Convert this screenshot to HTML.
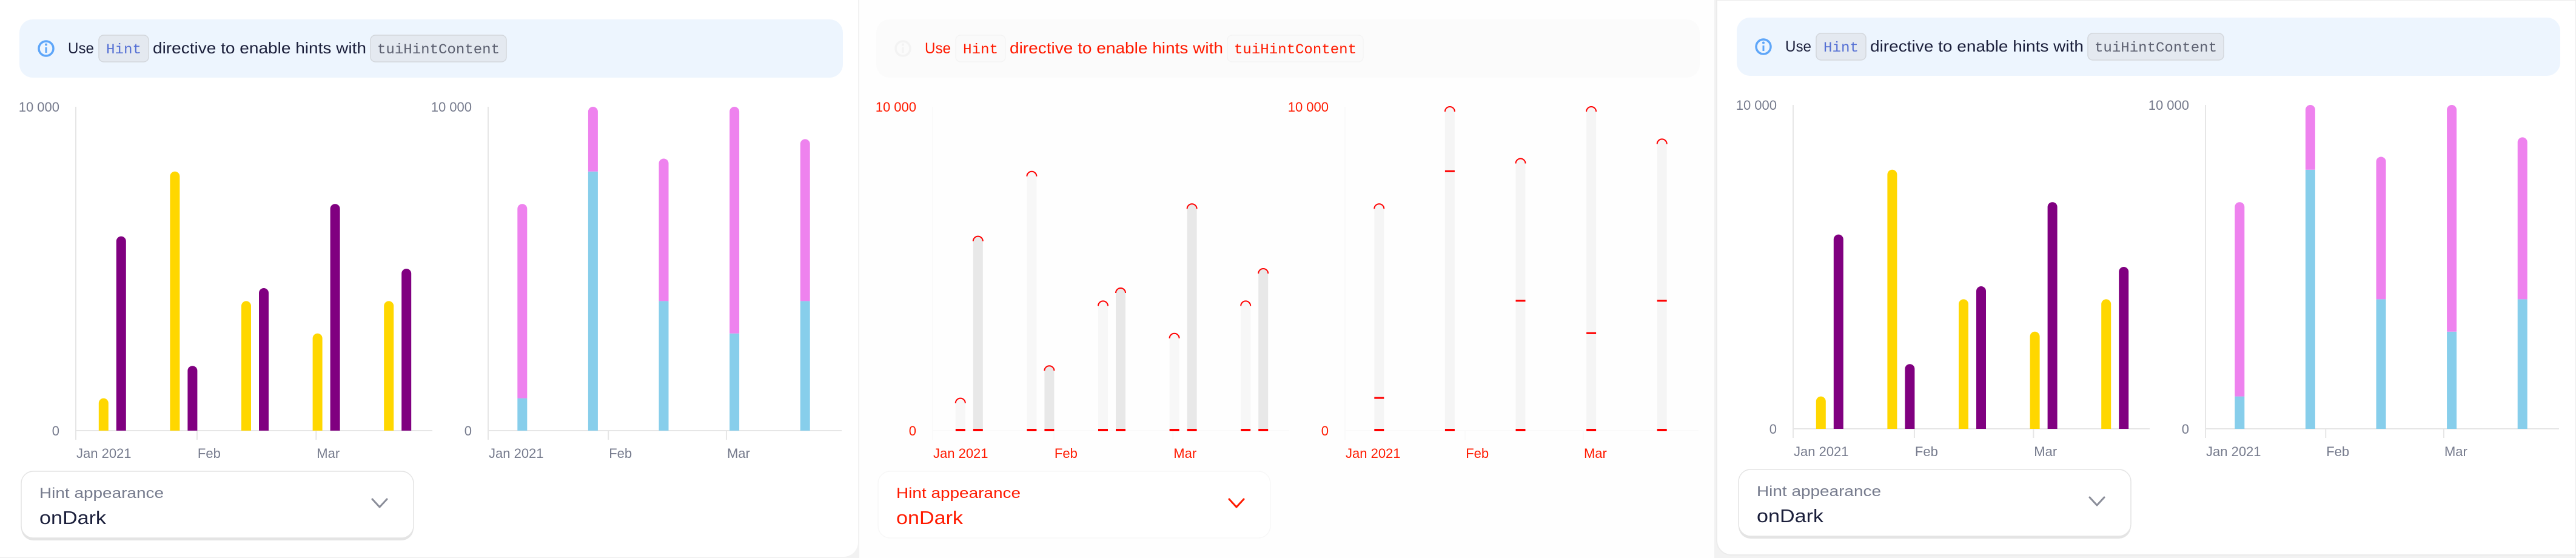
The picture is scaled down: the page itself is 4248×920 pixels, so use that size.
<!DOCTYPE html>
<html><head><meta charset="utf-8">
<style>
html,body{margin:0;padding:0;background:#f2f2f2;}
svg{display:block;font-family:"Liberation Sans",sans-serif;}
</style></head>
<body>
<svg id="root" width="4248" height="920" viewBox="0 0 4248 920" xmlns="http://www.w3.org/2000/svg">
  <rect x="0" y="0" width="4248" height="920" fill="#f2f2f2"/>
</svg>
<script>
const categories = ["W1","W2","W3","W4","W5"];
const seriesA = [1000, 8000, 4000, 3000, 4000];
const seriesB = [6000, 2000, 4400, 7000, 5000];
const yTickValues = [0, 10000];
const yTickLabels = ["0", "10 000"];
const monthLabels = ["Jan 2021", "Feb", "Mar"];
const monthPositions = [0, 1.7, 3.37];
const yMax = 10000;

const NS = "http://www.w3.org/2000/svg";
const root = document.getElementById("root");
function mk(tag, attrs, parent, text) {
  const e = document.createElementNS(NS, tag);
  for (const k in attrs) e.setAttribute(k, attrs[k]);
  if (attrs.textLength) e.setAttribute("lengthAdjust", "spacingAndGlyphs");
  if (text !== undefined) e.textContent = text;
  (parent || root).appendChild(e);
  return e;
}
function topRounded(x, w, yTop, yBot) {
  const r = w / 2;
  if (yBot - yTop < r) return `M${x},${yBot}V${yTop}H${x+w}V${yBot}Z`;
  return `M${x},${yBot}V${yTop+r}A${r},${r} 0 0 1 ${x+w},${yTop+r}V${yBot}Z`;
}

function drawPanel(ox, oy, diff, name) {
  const g = mk("g", {transform: `translate(${ox},${oy})`});
  
  
  const textCol = diff ? "#ff1a00" : "#1b1f3b";
  const grayCol = diff ? "#ff1a00" : "#767b8d";
  // info box
  const info = mk("g", {}, g);
  
  
  mk("rect", {x: 32, y: 32, width: 1358, height: 96, rx: 22, fill: diff ? "#fbfbfb" : "#edf5fe"}, info);
  mk("circle", {cx: 76, cy: 80, r: 12, fill: "none", stroke: diff ? "#f3f3f3" : "#5ea6f9", "stroke-width": 3.5}, info);
  mk("rect", {x: 74.5, y: 78, width: 3, height: 9, fill: diff ? "#f3f3f3" : "#5ea6f9"}, info);
  mk("circle", {cx: 76, cy: 73.5, r: 2, fill: diff ? "#f3f3f3" : "#5ea6f9"}, info);
  mk("text", {x: 112, y: 88, "font-size": 25, fill: textCol, textLength: 43}, info, "Use");
  mk("rect", {x: 163, y: 58, width: 82, height: 44, rx: 8, fill: diff ? "#fafafa" : "#e4e9f0", stroke: diff ? "#f4f4f4" : "#d3d7dc", "stroke-width": 1.5}, info);
  mk("text", {x: 175, y: 88, "font-size": 23, "font-family": "Liberation Mono, monospace", fill: diff ? "#ff1a00" : "#5570d4", textLength: 58}, info, "Hint");
  mk("text", {x: 252, y: 88, "font-size": 26, fill: textCol, textLength: 352}, info, "directive to enable hints with");
  mk("rect", {x: 611, y: 58, width: 224, height: 44, rx: 8, fill: diff ? "#fafafa" : "#e4e9f0", stroke: diff ? "#f4f4f4" : "#d3d7dc", "stroke-width": 1.5}, info);
  mk("text", {x: 622, y: 88, "font-size": 23, "font-family": "Liberation Mono, monospace", fill: diff ? "#ff1a00" : "#5c6070", textLength: 202}, info, "tuiHintContent");

  // charts
  const y = v => 710 - v / yMax * 534;
  function axes(x0, w, label) {
    const a = mk("g", {}, g);
    
    
    mk("line", {x1: x0, y1: 176, x2: x0, y2: 725, stroke: diff ? "#fafafa" : "#e6e6e6", "stroke-width": 2}, a);
    mk("line", {x1: x0, y1: 710, x2: x0 + w, y2: 710, stroke: diff ? "#fafafa" : "#e6e6e6", "stroke-width": 2}, a);
    yTickValues.forEach((v, i) => {
      const t = mk("text", {x: x0 - 27, y: y(v) + 8, "font-size": 22, "text-anchor": "end", fill: grayCol}, a, yTickLabels[i]);
      
      
    });
    const band = w / categories.length;
    monthLabels.forEach((m, i) => {
      const tx = x0 + monthPositions[i] * band;
      mk("line", {x1: tx, y1: 710, x2: tx, y2: 725, stroke: diff ? "#fafafa" : "#e6e6e6", "stroke-width": 2}, a);
      const t = mk("text", {x: tx + 1, y: 755, "font-size": 22, fill: grayCol}, a, m);
      
      
    });
  }
  // grouped chart
  const x0a = 125, wa = 588, banda = wa / categories.length;
  axes(x0a, wa, "grouped-chart-axes");
  categories.forEach((c, i) => {
    const cx = x0a + banda * (i + 0.5);
    [[seriesA[i], -13, diff ? "#f7f7f7" : "#ffd700", "bar-series-a"], [seriesB[i], 16, diff ? "#e8e8e8" : "#800080", "bar-series-b"]].forEach(([v, dx, col, nm]) => {
      const bx = cx + dx - 8;
      const p = mk("path", {d: topRounded(bx, 16, y(v), y(0)), fill: col}, g);
      
      
      if (diff) {
        mk("rect", {x: bx, y: y(0) - 3, width: 16, height: 4, fill: "#ff0000"}, g);
        mk("path", {d: `M${bx},${y(v)+8}A8,8 0 0 1 ${bx+16},${y(v)+8}`, fill: "none", stroke: "#ff0000", "stroke-width": 2}, g);
      }
    });
  });
  // stacked chart
  const x0b = 805, wb = 583, bandb = wb / categories.length;
  axes(x0b, wb, "stacked-chart-axes");
  categories.forEach((c, i) => {
    const bx = x0b + bandb * (i + 0.5) - 2 - 8;
    const s1 = mk("rect", {x: bx, y: y(seriesA[i]), width: 16, height: y(0) - y(seriesA[i]), fill: diff ? "#f5f5f5" : "#87ceeb"}, g);
    
    
    const tot = seriesA[i] + seriesB[i];
    const s2 = mk("path", {d: topRounded(bx, 16, y(tot), y(seriesA[i])), fill: diff ? "#f5f5f5" : "#ee82ee"}, g);
    
    
    if (diff) {
      mk("rect", {x: bx, y: y(0) - 3, width: 16, height: 4, fill: "#ff0000"}, g);
      mk("rect", {x: bx, y: y(seriesA[i]) - 2, width: 16, height: 3, fill: "#ff0000"}, g);
      mk("path", {d: `M${bx},${y(tot)+8}A8,8 0 0 1 ${bx+16},${y(tot)+8}`, fill: "none", stroke: "#ff0000", "stroke-width": 2}, g);
    }
  });

  // dropdown
  const dd = mk("g", {}, g);
  
  
  if (!diff) mk("rect", {x: 35, y: 781, width: 647, height: 110, rx: 20, fill: "#e4e4e4"}, dd);
  mk("rect", {x: 35, y: 777, width: 647, height: 110, rx: 20, fill: "#ffffff", stroke: diff ? "#f7f7f7" : "#e4e4e4", "stroke-width": 1.5}, dd);
  mk("text", {x: 65, y: 821, "font-size": 24, fill: grayCol, textLength: 205}, dd, "Hint appearance");
  mk("text", {x: 65, y: 864, "font-size": 31, fill: textCol, textLength: 110}, dd, "onDark");
  mk("path", {d: "M614,823 L626,836 L638,823", fill: "none", stroke: diff ? "#ff1a00" : "#8a8d99", "stroke-width": 3, "stroke-linecap": "round", "stroke-linejoin": "round"}, dd);
}

// cards
const c1 = mk("path", {d: "M0,0H1415V894A24,24 0 0 1 1391,918H0Z", fill: "#ffffff"});


const c2 = mk("rect", {x: 1417, y: 0, width: 1410, height: 920, fill: "#fefefe"});


const c3 = mk("path", {d: "M2831,0H4248V915H2855A24,24 0 0 1 2831,891Z", fill: "#ffffff", stroke: "#ececec", "stroke-width": 2});



drawPanel(0, 0, false, "panel-light");
drawPanel(1413, 0, true, "panel-diff");
drawPanel(2832, -3, false, "panel-right");
</script>
</body></html>
